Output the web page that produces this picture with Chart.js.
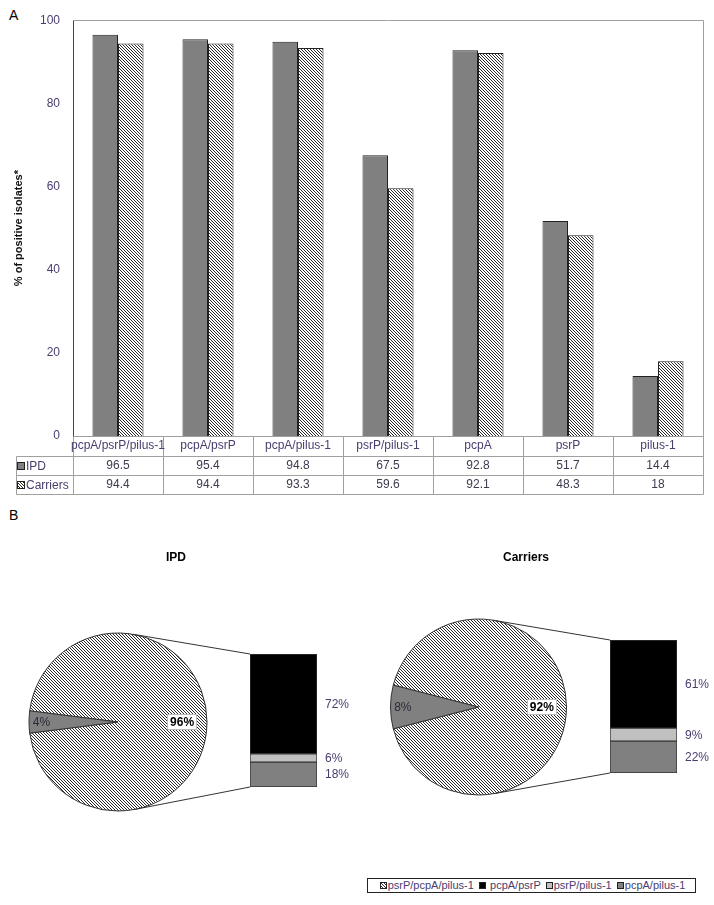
<!DOCTYPE html>
<html>
<head>
<meta charset="utf-8">
<script src="https://cdn.jsdelivr.net/npm/chart.js@4.4.0/dist/chart.umd.min.js"></script>
<style>
  html, body { margin: 0; padding: 0; background: #fff; }
  body { width: 714px; height: 905px; position: relative; overflow: hidden; font-family: 'Liberation Sans', Arial, sans-serif; }
  canvas { position: absolute; }
  .tag { position: absolute; font-size: 14px; color: #000; }
  .legend { position: absolute; left: 367px; top: 878px; width: 327px; height: 13px; border: 1px solid #222;
            font-size: 11px; line-height: 13px; color: #4a3d6e; white-space: nowrap; text-align: center; }
  .sw { display: inline-block; width: 5px; height: 5px; border: 1px solid #222; margin: 0 1px 1px 2px; vertical-align: middle; }
</style>
</head>
<body>
<div class="tag" style="left:9px;top:7px">A</div>
<div class="tag" style="left:9px;top:507px">B</div>

<canvas id="barCanvas" width="714" height="500" style="left:0;top:0"></canvas>
<canvas id="ipdPieCanvas" width="357" height="300" style="left:0;top:530px"></canvas>
<canvas id="ipdStackCanvas" width="357" height="300" style="left:0;top:530px"></canvas>
<canvas id="carPieCanvas" width="357" height="300" style="left:357px;top:530px"></canvas>
<canvas id="carStackCanvas" width="357" height="300" style="left:357px;top:530px"></canvas>

<div class="legend">
  <span class="sw" style="background:repeating-linear-gradient(45deg,#fff 0 1px,#333 1px 2px)"></span>psrP/pcpA/pilus-1
  <span class="sw" style="background:#000"></span> pcpA/psrP
  <span class="sw" style="background:#c0c0c0"></span>psrP/pilus-1
  <span class="sw" style="background:#808080"></span>pcpA/pilus-1
</div>

<script>
// panel A
const categories = ['pcpA/psrP/pilus-1', 'pcpA/psrP', 'pcpA/pilus-1', 'psrP/pilus-1', 'pcpA', 'psrP', 'pilus-1'];
const ipdValues = [96.5, 95.4, 94.8, 67.5, 92.8, 51.7, 14.4];
const carrierValues = [94.4, 94.4, 93.3, 59.6, 92.1, 48.3, 18];
const seriesNames = ['IPD', 'Carriers'];
const yMin = 0, yMax = 100, yStep = 20;

// panel B
const pieLabels = ['psrP/pcpA/pilus-1', 'others'];
const ipdPie = [96, 4];
const carriersPie = [92, 8];
const partLabels = ['pcpA/pilus-1', 'psrP/pilus-1', 'pcpA/psrP'];
const ipdParts = [18, 6, 72];
const carriersParts = [22, 9, 61];

const TEXT = '#4a3d6e';
const LINE = '#a0a0a0';

Chart.defaults.font.family = "'Liberation Sans', Arial, sans-serif";
Chart.defaults.animation = false;
Chart.defaults.events = [];
Chart.defaults.plugins.legend.display = false;
Chart.defaults.plugins.tooltip.enabled = false;

function makeHatch(ctx) {
  const tile = document.createElement('canvas');
  tile.width = 3;
  tile.height = 3;
  const t = tile.getContext('2d');
  t.fillStyle = '#fff';
  t.fillRect(0, 0, 3, 3);
  t.fillStyle = '#2a2a2a';
  for (let i = 0; i < 3; i++) t.fillRect(i, i, 1, 1);
  return ctx.createPattern(tile, 'repeat');
}

// frame + data table under the bars
const tablePlugin = {
  id: 'dataTable',
  afterDraw(chart) {
    const { ctx, chartArea: a, scales: { x } } = chart;
    const colW = (a.right - a.left) / categories.length;
    const rows = [a.bottom, a.bottom + 20, a.bottom + 39, a.bottom + 58];
    const tableLeft = 16;
    const px = v => Math.round(v) + 0.5;

    ctx.save();
    ctx.lineWidth = 1;
    ctx.strokeStyle = LINE;
    ctx.beginPath();
    ctx.moveTo(px(a.left), px(a.top));
    ctx.lineTo(px(a.right), px(a.top));
    ctx.lineTo(px(a.right), px(rows[3]));
    ctx.moveTo(px(a.left), px(a.bottom));
    ctx.lineTo(px(a.right), px(a.bottom));
    for (let r = 1; r < rows.length; r++) {
      ctx.moveTo(px(tableLeft), px(rows[r]));
      ctx.lineTo(px(a.right), px(rows[r]));
    }
    ctx.moveTo(px(tableLeft), px(rows[1]));
    ctx.lineTo(px(tableLeft), px(rows[3]));
    for (let i = 1; i < categories.length; i++) {
      ctx.moveTo(px(a.left + i * colW), px(rows[0]));
      ctx.lineTo(px(a.left + i * colW), px(rows[3]));
    }
    ctx.moveTo(px(a.left), px(a.bottom));
    ctx.lineTo(px(a.left), px(rows[3]));
    ctx.stroke();

    // y axis line
    ctx.strokeStyle = '#444';
    ctx.beginPath();
    ctx.moveTo(px(a.left), px(a.top));
    ctx.lineTo(px(a.left), px(a.bottom));
    ctx.stroke();

    ctx.font = '12px "Liberation Sans", Arial, sans-serif';
    ctx.textAlign = 'center';
    ctx.textBaseline = 'middle';
    const series = [ipdValues, carrierValues];
    categories.forEach((c, i) => {
      const cx = x.getPixelForValue(i);
      ctx.fillStyle = TEXT;
      ctx.fillText(c, cx, (rows[0] + rows[1]) / 2);
      ctx.fillStyle = '#3d3b4f';
      series.forEach((s, k) => ctx.fillText(String(s[i]), cx, (rows[k + 1] + rows[k + 2]) / 2));
    });

    // row keys
    ctx.textAlign = 'left';
    chart.data.datasets.forEach((ds, k) => {
      const cy = Math.round((rows[k + 1] + rows[k + 2]) / 2);
      ctx.fillStyle = ds.backgroundColor;
      ctx.fillRect(18, cy - 3, 6, 6);
      ctx.strokeStyle = '#222';
      ctx.strokeRect(17.5, cy - 3.5, 7, 7);
      ctx.fillStyle = TEXT;
      ctx.fillText(seriesNames[k], 26, cy + 0.5);
    });
    ctx.restore();
  }
};

const barCtx = document.getElementById('barCanvas').getContext('2d');
new Chart(barCtx, {
  type: 'bar',
  data: {
    labels: categories,
    datasets: [
      { label: seriesNames[0], data: ipdValues, backgroundColor: '#808080', borderColor: '#222', borderWidth: 1, borderSkipped: 'bottom' },
      { label: seriesNames[1], data: carrierValues, backgroundColor: makeHatch(barCtx), borderColor: '#222', borderWidth: 1, borderSkipped: 'bottom' }
    ]
  },
  options: {
    responsive: false,
    layout: { padding: { top: 8, right: 11, bottom: 64, left: 0 } },
    datasets: { bar: { categoryPercentage: 0.567, barPercentage: 1 } },
    scales: {
      x: { display: false },
      y: {
        min: yMin,
        max: yMax,
        ticks: { stepSize: yStep, padding: 13, color: TEXT, font: { size: 12 } },
        grid: { display: false, drawTicks: false },
        border: { display: false },
        title: { display: true, text: '% of positive isolates*', color: '#111', font: { size: 11, weight: 'bold' }, padding: { top: 12, bottom: 0 } },
        afterFit: scale => { scale.width = 73; }
      }
    }
  },
  plugins: [tablePlugin]
});

// pie-of-bar panels
const panels = [
  { key: 'ipd', title: 'IPD', pie: ipdPie, parts: ipdParts, pieX: 118, pieY: 192, pieR: 89, titleX: 176, bar: { left: 250, top: 124, right: 317, bottom: 257 } },
  { key: 'car', title: 'Carriers', pie: carriersPie, parts: carriersParts, pieX: 120, pieY: 177, pieR: 88, titleX: 169, bar: { left: 253, top: 110, right: 320, bottom: 243 } }
];

const partColors = ['#808080', '#c0c0c0', '#000000'];

function pct(v) { return Math.round(v) + '%'; }

function tangent(cx, cy, r, px, py, side) {
  const dx = px - cx, dy = py - cy;
  const base = Math.atan2(dy, dx);
  const off = Math.acos(r / Math.hypot(dx, dy));
  const ang = base + side * off;
  return [cx + r * Math.cos(ang), cy + r * Math.sin(ang)];
}

panels.forEach(p => {
  const W = 357, H = 300;
  const pieCtx = document.getElementById(p.key + 'PieCanvas').getContext('2d');
  const total = p.pie[0] + p.pie[1];

  const pieText = {
    id: 'pieText',
    afterDraw(chart) {
      const { ctx } = chart;
      ctx.save();
      ctx.font = 'bold 12px "Liberation Sans", Arial, sans-serif';
      ctx.fillStyle = '#000';
      ctx.textAlign = 'center';
      ctx.textBaseline = 'middle';
      ctx.fillText(p.title, p.titleX, 28);

      chart.getDatasetMeta(0).data.forEach((arc, i) => {
        const g = arc.getProps(['x', 'y', 'startAngle', 'endAngle', 'outerRadius']);
        const mid = (g.startAngle + g.endAngle) / 2;
        const f = i === 0 ? 0.72 : 0.86;
        const tx = g.x + Math.cos(mid) * g.outerRadius * f;
        const ty = g.y + Math.sin(mid) * g.outerRadius * f;
        const label = pct(p.pie[i] / total * 100);
        if (i === 0) {
          ctx.font = 'bold 12px "Liberation Sans", Arial, sans-serif';
          const w = ctx.measureText(label).width + 6;
          ctx.fillStyle = '#fff';
          ctx.fillRect(Math.round(tx - w / 2), Math.round(ty - 8), Math.round(w), 16);
          ctx.strokeStyle = '#777';
          ctx.setLineDash([1, 1]);
          ctx.strokeRect(Math.round(tx - w / 2) + 0.5, Math.round(ty - 8) + 0.5, Math.round(w) - 1, 15);
          ctx.setLineDash([]);
        } else {
          ctx.font = '12px "Liberation Sans", Arial, sans-serif';
        }
        ctx.fillStyle = i === 0 ? '#000' : '#2a2a3a';
        ctx.fillText(label, tx, ty + 0.5);
      });
      ctx.restore();
    }
  };

  const half = Math.min(p.pieY, H - p.pieY);
  const pieChart = new Chart(pieCtx, {
    type: 'pie',
    data: {
      labels: pieLabels,
      datasets: [{ data: p.pie, backgroundColor: [makeHatch(pieCtx), '#808080'], borderColor: '#333', borderWidth: 1 }]
    },
    options: {
      responsive: false,
      radius: p.pieR,
      rotation: 270 - 360 * (p.pie[0] + p.pie[1] / 2) / total,
      layout: { padding: { left: p.pieX - half, right: W - p.pieX - half, top: p.pieY - half, bottom: H - p.pieY - half } }
    },
    plugins: [pieText]
  });

  const stackText = {
    id: 'stackText',
    afterDraw(chart) {
      const { ctx, chartArea: a } = chart;
      const arc = pieChart.getDatasetMeta(0).data[0];
      const r = arc.outerRadius;
      ctx.save();
      ctx.strokeStyle = '#333';
      ctx.lineWidth = 1;
      const t1 = tangent(arc.x, arc.y, r, a.left, a.top, -1);
      const t2 = tangent(arc.x, arc.y, r, a.left, a.bottom, 1);
      ctx.beginPath();
      ctx.moveTo(t1[0], t1[1]);
      ctx.lineTo(a.left, a.top);
      ctx.moveTo(t2[0], t2[1]);
      ctx.lineTo(a.left, a.bottom);
      ctx.stroke();

      ctx.font = '12px "Liberation Sans", Arial, sans-serif';
      ctx.fillStyle = TEXT;
      ctx.textAlign = 'left';
      ctx.textBaseline = 'middle';
      chart.data.datasets.forEach((ds, i) => {
        const bar = chart.getDatasetMeta(i).data[0];
        const g = bar.getProps(['x', 'y', 'base', 'width']);
        ctx.fillText(pct(ds.data[0]), g.x + g.width / 2 + 8, (g.y + g.base) / 2 + 0.5);
      });
      ctx.restore();
    }
  };

  const partTotal = p.parts.reduce((s, v) => s + v, 0);
  new Chart(document.getElementById(p.key + 'StackCanvas').getContext('2d'), {
    type: 'bar',
    data: {
      labels: [''],
      datasets: partLabels.map((l, i) => ({
        label: l, data: [p.parts[i]], backgroundColor: partColors[i], borderColor: '#333', borderWidth: 1, borderSkipped: false
      }))
    },
    options: {
      responsive: false,
      layout: { padding: { left: p.bar.left, right: W - p.bar.right, top: p.bar.top, bottom: H - p.bar.bottom } },
      datasets: { bar: { categoryPercentage: 1, barPercentage: 1 } },
      scales: {
        x: { display: false, stacked: true },
        y: { display: false, stacked: true, min: 0, max: partTotal }
      }
    },
    plugins: [stackText]
  });
});
</script>
</body>
</html>
